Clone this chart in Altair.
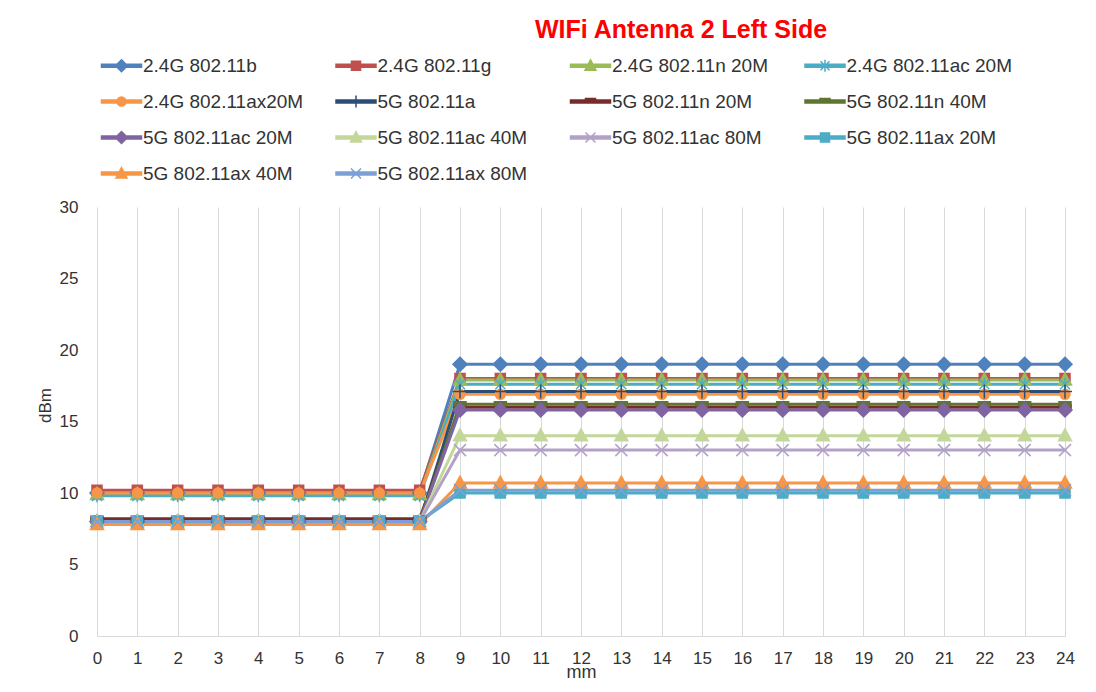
import altair as alt
import pandas as pd

FONT = "Liberation Sans"

mm = list(range(25))

series = [
    "2.4G 802.11b", "2.4G 802.11g", "2.4G 802.11n 20M", "2.4G 802.11ac 20M",
    "2.4G 802.11ax20M", "5G 802.11a", "5G 802.11n 20M", "5G 802.11n 40M",
    "5G 802.11ac 20M", "5G 802.11ac 40M", "5G 802.11ac 80M", "5G 802.11ax 20M",
    "5G 802.11ax 40M", "5G 802.11ax 80M",
]
colors = [
    "#4F81BD", "#C0504D", "#9BBB59", "#4BACC6", "#F79646", "#2C4D75", "#772C2A",
    "#5F7530", "#8064A2", "#C4D79B", "#B3A2C7", "#4BACC6", "#F79646", "#7CA0D6",
]
markers = [
    "diamond", "square", "triangle", "asterisk", "circle", "plus", "dash",
    "dash", "diamond", "triangle", "x", "square", "triangle", "x",
]

v_24_b     = [10.0, 10.0, 10.0, 10.0, 10.0, 10.0, 10.0, 10.0, 10.0, 19.0, 19.0, 19.0, 19.0, 19.0, 19.0, 19.0, 19.0, 19.0, 19.0, 19.0, 19.0, 19.0, 19.0, 19.0, 19.0]
v_24_g     = [10.2, 10.2, 10.2, 10.2, 10.2, 10.2, 10.2, 10.2, 10.2, 18.0, 18.0, 18.0, 18.0, 18.0, 18.0, 18.0, 18.0, 18.0, 18.0, 18.0, 18.0, 18.0, 18.0, 18.0, 18.0]
v_24_n20   = [9.9, 9.9, 9.9, 9.9, 9.9, 9.9, 9.9, 9.9, 9.9, 17.9, 17.9, 17.9, 17.9, 17.9, 17.9, 17.9, 17.9, 17.9, 17.9, 17.9, 17.9, 17.9, 17.9, 17.9, 17.9]
v_24_ac20  = [9.8, 9.8, 9.8, 9.8, 9.8, 9.8, 9.8, 9.8, 9.8, 17.6, 17.6, 17.6, 17.6, 17.6, 17.6, 17.6, 17.6, 17.6, 17.6, 17.6, 17.6, 17.6, 17.6, 17.6, 17.6]
v_24_ax20  = [10.0, 10.0, 10.0, 10.0, 10.0, 10.0, 10.0, 10.0, 10.0, 16.9, 16.9, 16.9, 16.9, 16.9, 16.9, 16.9, 16.9, 16.9, 16.9, 16.9, 16.9, 16.9, 16.9, 16.9, 16.9]
v_5_a      = [8.0, 8.0, 8.0, 8.0, 8.0, 8.0, 8.0, 8.0, 8.0, 17.1, 17.1, 17.1, 17.1, 17.1, 17.1, 17.1, 17.1, 17.1, 17.1, 17.1, 17.1, 17.1, 17.1, 17.1, 17.1]
v_5_n20    = [8.2, 8.2, 8.2, 8.2, 8.2, 8.2, 8.2, 8.2, 8.2, 16.0, 16.0, 16.0, 16.0, 16.0, 16.0, 16.0, 16.0, 16.0, 16.0, 16.0, 16.0, 16.0, 16.0, 16.0, 16.0]
v_5_n40    = [8.0, 8.0, 8.0, 8.0, 8.0, 8.0, 8.0, 8.0, 8.0, 16.2, 16.2, 16.2, 16.2, 16.2, 16.2, 16.2, 16.2, 16.2, 16.2, 16.2, 16.2, 16.2, 16.2, 16.2, 16.2]
v_5_ac20   = [8.0, 8.0, 8.0, 8.0, 8.0, 8.0, 8.0, 8.0, 8.0, 15.8, 15.8, 15.8, 15.8, 15.8, 15.8, 15.8, 15.8, 15.8, 15.8, 15.8, 15.8, 15.8, 15.8, 15.8, 15.8]
v_5_ac40   = [8.0, 8.0, 8.0, 8.0, 8.0, 8.0, 8.0, 8.0, 8.0, 14.0, 14.0, 14.0, 14.0, 14.0, 14.0, 14.0, 14.0, 14.0, 14.0, 14.0, 14.0, 14.0, 14.0, 14.0, 14.0]
v_5_ac80   = [8.0, 8.0, 8.0, 8.0, 8.0, 8.0, 8.0, 8.0, 8.0, 13.0, 13.0, 13.0, 13.0, 13.0, 13.0, 13.0, 13.0, 13.0, 13.0, 13.0, 13.0, 13.0, 13.0, 13.0, 13.0]
v_5_ax20   = [8.0, 8.0, 8.0, 8.0, 8.0, 8.0, 8.0, 8.0, 8.0, 10.0, 10.0, 10.0, 10.0, 10.0, 10.0, 10.0, 10.0, 10.0, 10.0, 10.0, 10.0, 10.0, 10.0, 10.0, 10.0]
v_5_ax40   = [7.8, 7.8, 7.8, 7.8, 7.8, 7.8, 7.8, 7.8, 7.8, 10.7, 10.7, 10.7, 10.7, 10.7, 10.7, 10.7, 10.7, 10.7, 10.7, 10.7, 10.7, 10.7, 10.7, 10.7, 10.7]
v_5_ax80   = [8.0, 8.0, 8.0, 8.0, 8.0, 8.0, 8.0, 8.0, 8.0, 10.2, 10.2, 10.2, 10.2, 10.2, 10.2, 10.2, 10.2, 10.2, 10.2, 10.2, 10.2, 10.2, 10.2, 10.2, 10.2]

values = [v_24_b, v_24_g, v_24_n20, v_24_ac20, v_24_ax20, v_5_a, v_5_n20,
          v_5_n40, v_5_ac20, v_5_ac40, v_5_ac80, v_5_ax20, v_5_ax40, v_5_ax80]

y_ticks = [0, 5, 10, 15, 20, 25, 30]


def circ(r):
    return f"M{-r},0A{r},{r},0,1,1,{r},0A{r},{r},0,1,1,{-r},0Z"


# marker paths in pixel units (symbol size 4 -> scale factor 1)
plot_paths = {
    "diamond": "M0,-7L7,0L0,7L-7,0Z",
    "square": "M-5,-5L5,-5L5,5L-5,5Z",
    "triangle": "M0,-7L6.5,5L-6.5,5Z",
    "asterisk": "M-5,-5L5,5M-5,5L5,-5M0,-6.5L0,6.5",
    "circle": circ(5),
    "plus": "M-7,0L7,0M0,-7L0,7",
    "dash": "M-6,-2.5L6,-2.5L6,1.5L-6,1.5Z",
    "x": "M-6,-6L6,6M-6,6L6,-6",
}
legend_marks = {
    "diamond": "M0,-6L6,0L0,6L-6,0Z",
    "square": "M-4.5,-4.5L4.5,-4.5L4.5,4.5L-4.5,4.5Z",
    "triangle": "M0,-6L5.5,4.5L-5.5,4.5Z",
    "asterisk": "M-4.5,-4.5L4.5,4.5M-4.5,4.5L4.5,-4.5M0,-6L0,6",
    "circle": circ(4.5),
    "plus": "M-6,0L6,0M0,-6L0,6",
    "dash": "M-5,-3L5,-3L5,0.5L-5,0.5Z",
    "x": "M-5,-5L5,5M-5,5L5,-5",
}
LINE = "M-20,-1.5L20,-1.5L20,1.5L-20,1.5Z"

shape_plot = [plot_paths[m] for m in markers]
shape_leg = [LINE + legend_marks[m] for m in markers]

rows = []
for name, vals in zip(series, values):
    for xv, yv in zip(mm, vals):
        rows.append({"series": name, "mm": xv, "dBm": yv})
df = pd.DataFrame(rows)
df_leg = pd.DataFrame({"series": series, "mm": [mm[0]] * len(series),
                       "dBm": [v[0] for v in values]})

x_enc = alt.X(
    "mm:Q",
    scale=alt.Scale(domain=[0, 24], nice=False, zero=False),
    axis=alt.Axis(values=mm, title="mm", grid=True, gridColor="#D9D9D9",
                  domainColor="#D9D9D9", ticks=False, tickSize=0,
                  labelFontSize=17, labelPadding=14, labelColor="#333333",
                  labelFont=FONT, labelFlush=False, titleFont=FONT,
                  titleFontSize=18, titleFontWeight="normal",
                  titleColor="#333333", titleY=41,
                  titleBaseline="alphabetic"),
)
y_enc = alt.Y(
    "dBm:Q",
    scale=alt.Scale(domain=[0, 30], nice=False),
    axis=alt.Axis(values=y_ticks, title="dBm", grid=False, domain=False,
                  ticks=False, tickSize=0, labelFontSize=17, labelPadding=19,
                  labelColor="#333333", labelFont=FONT, titleFont=FONT,
                  titleFontSize=17, titleFontWeight="normal",
                  titleColor="#333333", titleX=-52, titleY=198,
                  titleBaseline="middle", titleAngle=270),
)

lines = alt.Chart(df).mark_line(strokeWidth=3).encode(
    x=x_enc, y=y_enc,
    color=alt.Color("series:N", scale=alt.Scale(domain=series, range=colors),
                    legend=None),
)

points = alt.Chart(df).mark_point(filled=True, size=4, strokeWidth=1.5,
                                  opacity=1).encode(
    x=x_enc, y=y_enc,
    shape=alt.Shape("series:N", scale=alt.Scale(domain=series, range=shape_plot),
                    legend=None),
    fill=alt.Fill("series:N", scale=alt.Scale(domain=series, range=colors),
                  legend=None),
    stroke=alt.Stroke("series:N", scale=alt.Scale(domain=series, range=colors),
                      legend=None),
)

leg = alt.Legend(
    orient="none", direction="horizontal", legendX=3, legendY=-151, columns=4,
    title=None, columnPadding=23.5, rowPadding=16, labelFontSize=19,
    labelFont=FONT, labelColor="#333333", symbolSize=4, symbolStrokeWidth=1.5,
    symbolOffset=12, labelOffset=12, gridAlign="all", labelLimit=0,
    padding=0,
)

legend_layer = alt.Chart(df_leg).mark_point(filled=True, size=0, strokeWidth=1.5,
                                            opacity=1).encode(
    x=x_enc, y=y_enc,
    shape=alt.Shape("series:N", scale=alt.Scale(domain=series, range=shape_leg),
                    legend=leg),
    fill=alt.Fill("series:N", scale=alt.Scale(domain=series, range=colors),
                  legend=leg),
    stroke=alt.Stroke("series:N", scale=alt.Scale(domain=series, range=colors),
                      legend=leg),
)

chart = alt.layer(lines, points, legend_layer).resolve_scale(
    shape="independent", fill="independent", stroke="independent"
).properties(
    width=968, height=429,
    title=alt.TitleParams("WIFi Antenna 2 Left Side", color="#FF0000",
                          fontSize=25, font=FONT,
                          fontWeight="bold", anchor="middle", frame="group",
                          dx=100, dy=23, offset=16, baseline="alphabetic"),
    autosize=alt.AutoSizeParams(type="none"),
    padding={"left": 89, "top": 199, "right": 20, "bottom": 45},
    background="white",
).configure_view(stroke=None)

chart.save("out.html", embed_options={"renderer": "svg", "actions": False})
